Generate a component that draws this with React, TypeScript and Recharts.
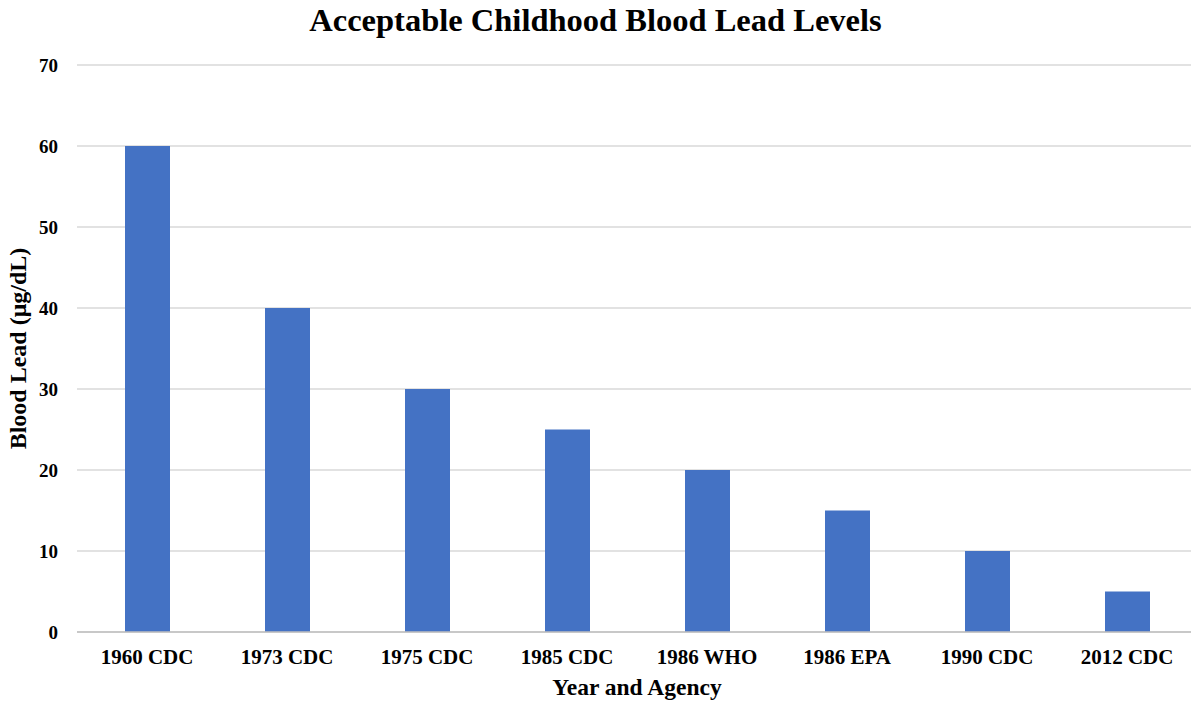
import React from 'react';
import { BarChart, Bar, XAxis, YAxis, CartesianGrid } from 'recharts';

const categories = ['1960 CDC', '1973 CDC', '1975 CDC', '1985 CDC', '1986 WHO', '1986 EPA', '1990 CDC', '2012 CDC'];
const bloodLead = [60, 40, 30, 25, 20, 15, 10, 5];
const yTicks = [0, 10, 20, 30, 40, 50, 60, 70];

const data = categories.map((name, i) => ({ name, value: bloodLead[i] }));

const font = '"Liberation Serif", "Times New Roman", serif';

const YLabel = (props: any) => {
    const vb = props.viewBox || { x: 0, y: 65, width: 77, height: 567 };
    const cx = 18;
    const cy = vb.y + vb.height / 2;
    return (
        <text
            x={cx}
            y={cy}
            transform={`rotate(-90 ${cx} ${cy})`}
            textAnchor="middle"
            dominantBaseline="central"
            fontFamily={font}
            fontWeight="bold"
            fontSize={24}
            fill="#000"
        >
            Blood Lead (μg/dL)
        </text>
    );
};

const App: React.FC = () => {
    return (
        <div style={{ position: 'relative', width: 1191, height: 703, overflow: 'hidden', background: '#fff' }}>
            <style>{'html, body { margin: 0; padding: 0; overflow: hidden; }'}</style>
            <div
                style={{
                    position: 'absolute',
                    top: 2,
                    left: 0,
                    width: 1191,
                    textAlign: 'center',
                    fontFamily: font,
                    fontWeight: 'bold',
                    fontSize: 32.5,
                    lineHeight: '36px',
                    color: '#000',
                    zIndex: 1,
                }}
            >
                Acceptable Childhood Blood Lead Levels
            </div>
            <div
                style={{
                    position: 'absolute',
                    top: 673,
                    left: 77,
                    width: 1120,
                    textAlign: 'center',
                    fontFamily: font,
                    fontWeight: 'bold',
                    fontSize: 23.5,
                    lineHeight: '28px',
                    color: '#000',
                    zIndex: 1,
                }}
            >
                Year and Agency
            </div>
            <BarChart width={1197} height={703} data={data} margin={{ top: 65, right: 0, bottom: 1, left: 0 }}>
                <CartesianGrid vertical={false} stroke="#d9d9d9" strokeWidth={1.5} />
                <XAxis
                    dataKey="name"
                    height={70}
                    tickLine={false}
                    tickSize={0}
                    tickMargin={17}
                    axisLine={{ stroke: '#bfbfbf', strokeWidth: 1.5 }}
                    tick={{ fontFamily: font, fontWeight: 'bold', fontSize: 21, fill: '#000' }}
                    interval={0}
                />
                <YAxis
                    width={77}
                    domain={[0, 70]}
                    ticks={yTicks}
                    tickLine={false}
                    axisLine={false}
                    tickSize={0}
                    tickMargin={19}
                    tick={{ fontFamily: font, fontWeight: 'bold', fontSize: 19, fill: '#000' }}
                    label={<YLabel />}
                />
                <Bar dataKey="value" fill="#4472C4" barSize={45} isAnimationActive={false} />
            </BarChart>
        </div>
    );
};

export default App;
